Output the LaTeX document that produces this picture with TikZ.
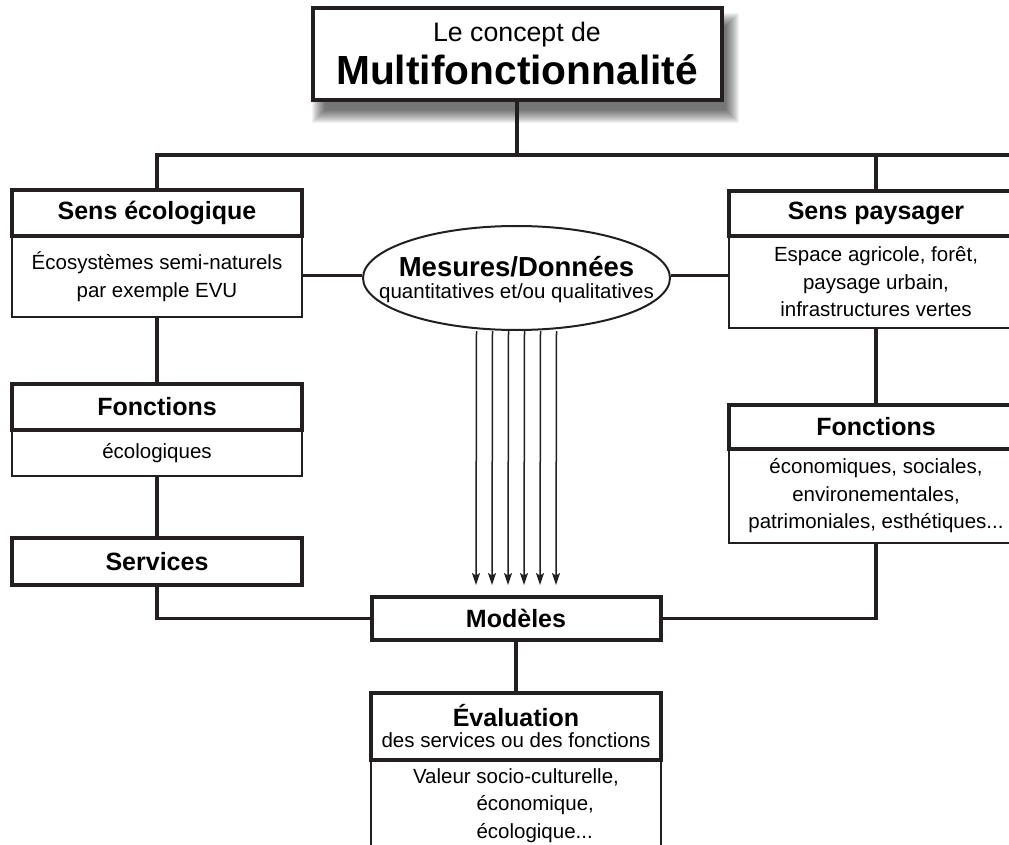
\documentclass[tikz,border=0pt]{standalone}
\usepackage{fontspec}
\setmainfont{Liberation Sans}
\usetikzlibrary{arrows.meta,shapes.geometric,backgrounds}
\definecolor{ink}{HTML}{231F20}

\begin{document}
\begin{tikzpicture}[x=1pt,y=-1pt,
        head/.style={draw=ink, line width=4pt, fill=white, inner sep=0pt,
            font=\bfseries\fontsize{25}{30}\selectfont},
        body/.style={draw=ink, line width=2pt, fill=white, inner sep=0pt,
            align=center, font=\fontsize{20.5}{27.5}\selectfont},
        link/.style={draw=ink, line width=3.5pt},
        flow/.style={draw=ink, line width=1.5pt, -{Stealth[length=12pt,width=8pt,inset=2.5pt]}}]
    \useasboundingbox (0,0) rectangle (1009,845);
    \clip (0,0) rectangle (1009,845);

    % title box
    \node[draw=ink, line width=4pt, fill=white, minimum width=409pt, minimum height=92pt,
        align=center, font=\fontsize{26.7}{43}\selectfont] (title) at (517,54)
        {Le concept de\\{\bfseries\fontsize{40.7}{43}\selectfont Multifonctionnalité}};
    \coordinate (topbar) at (517,155);
    \coordinate (rightEnd) at (1015,155);

    % left column
    \node[body, minimum width=290pt, minimum height=81pt] (sensEcoBody) at (157,276.5)
        {Écosystèmes semi-naturels\\par exemple EVU};
    \node[head, minimum width=290pt, minimum height=46pt] (sensEco) at (157,213) {Sens écologique};
    \node[body, minimum width=290pt, minimum height=46pt] (fonctEcoBody) at (157,453) {écologiques};
    \node[head, minimum width=290pt, minimum height=46pt] (fonctEco) at (157,407) {Fonctions};
    \node[head, minimum width=290pt, minimum height=47pt] (services) at (157,561.5) {Services};

    % right column
    \node[body, minimum width=294pt, minimum height=92pt] (sensPaysBody) at (876,282)
        {Espace agricole, forêt,\\paysage urbain,\\infrastructures vertes};
    \node[head, minimum width=294pt, minimum height=45pt] (sensPays) at (876,213.5) {Sens paysager};
    \node[body, minimum width=294pt, minimum height=94pt] (fonctPaysBody) at (876,496)
        {économiques, sociales,\\environementales,\\patrimoniales, esthétiques...};
    \node[head, minimum width=294pt, minimum height=44pt] (fonctPays) at (876,427) {Fonctions};

    % centre
    \node[ellipse, draw=ink, line width=2pt, fill=white, inner sep=0pt, minimum width=307pt,
        minimum height=104pt, font=\fontsize{20.5}{22}\selectfont] (mesures) at (516.5,278)
        {\smash{\raisebox{-8pt}{\makebox[0pt]{\begin{tabular}{@{}c@{}}
            {\bfseries\fontsize{27.5}{22}\selectfont Mesures/Données}\\
            quantitatives et/ou qualitatives\end{tabular}}}}};
    \node[head, minimum width=289pt, minimum height=43pt] (modeles) at (516,618.5) {Modèles};
    \node[body, minimum width=290pt, anchor=north, inner ysep=3pt, text depth=100pt] (evalBody) at (516,760)
        {Valeur \begin{tabular}[t]{@{}l@{}}socio-culturelle,\\économique,\\écologique...\end{tabular}};
    \node[head, minimum width=290pt, minimum height=67pt, align=center,
        font=\fontsize{20.5}{21}\selectfont] (evalHead) at (516,726.5)
        {{\bfseries\fontsize{25}{21}\selectfont Évaluation}\\des services ou des fonctions};

    % connectors
    \draw[link] (title.south) -- (topbar);
    \draw[link] (sensEco.north) |- (rightEnd);
    \draw[link] (sensPays.north) -- (sensPays.north |- topbar);
    \draw[link] (sensEcoBody) -- (fonctEco);
    \draw[link] (fonctEcoBody) -- (services);
    \draw[link] (services) |- (modeles);
    \draw[link] (sensPaysBody) -- (fonctPays);
    \draw[link] (fonctPaysBody) |- (modeles);
    \draw[link] (modeles) -- (evalHead);
    \draw[link] (sensEcoBody.east |- mesures.179) -- (mesures.179);
    \draw[link] (mesures.1) -- (mesures.1 -| sensPaysBody.west);
    \foreach \dx in {-40,-24,-8,8,24,40}
        \draw[flow] ([xshift=\dx pt]mesures.south) -- ([xshift=\dx pt, yshift=10pt]modeles.north);

    % shadow of the title box
    \begin{scope}[on background layer]
        \fill[white] (0,0) rectangle (1009,845);
        \foreach \e in {-6,...,7}
            \fill[black, opacity=.05] ([shift={({8-(\e)},{14+(\e)})}]title.south west)
                rectangle ([shift={({8+(\e)},{14-(\e)})}]title.north east);
    \end{scope}
\end{tikzpicture}
\end{document}
